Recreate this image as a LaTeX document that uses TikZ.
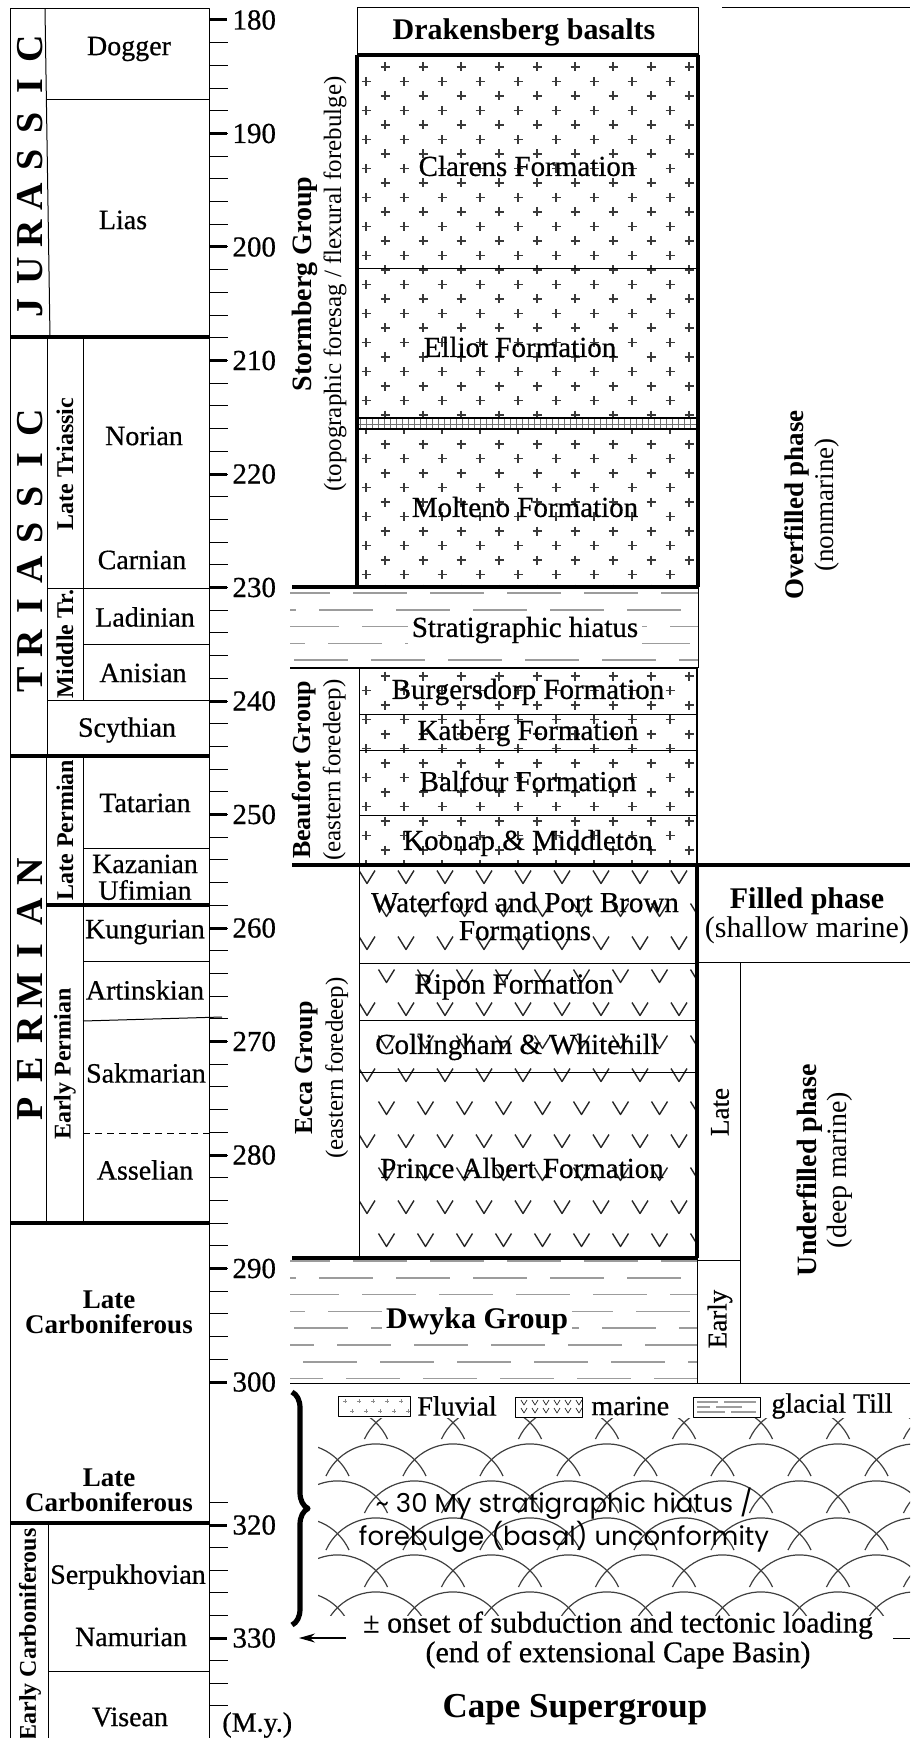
\documentclass[tikz,border=0pt]{standalone}
\usepackage{fontspec}
\setmainfont{Liberation Serif}
\newfontfamily\heavyserif{Liberation Serif}[FakeBold=0.6]
\newfontfamily\gothicfont{Poppins}
\usepackage{tikz}
\usetikzlibrary{positioning,arrows.meta,decorations.pathreplacing,patterns}
\definecolor{patGray}{HTML}{3A3A3A}
\definecolor{tillGray}{HTML}{9C9C9C}
\tikzset{
  thinrule/.style={line width=0.5pt},
  midrule/.style={line width=0.9pt},
  thickrule/.style={line width=1.6pt},
  majortick/.style={line width=1.5pt},
  minortick/.style={line width=0.5pt},
  ticklabel/.style={anchor=west, inner sep=0pt, xshift=2pt, font=\heavyserif\fontsize{14.5}{15}\selectfont},
  stage/.style={inner sep=1pt, align=center, font=\heavyserif\fontsize{14}{12.5}\selectfont},
  stagebold/.style={stage, font=\fontsize{13.5}{12.5}\selectfont\bfseries},
  sublabel/.style={rotate=90, inner sep=0pt, font=\fontsize{12}{13}\selectfont\bfseries},
  periodletter/.style={rotate=90, inner sep=0pt, font=\fontsize{19}{20}\selectfont\bfseries},
  fmlabel/.style={inner sep=1pt, align=center, font=\heavyserif\fontsize{14.5}{14}\selectfont},
  fmbold/.style={fmlabel, font=\fontsize{15}{14}\selectfont\bfseries},
  grouplabel/.style={rotate=90, inner sep=0pt, align=center, font=\fontsize{12.5}{15}\selectfont},
  phaselabel/.style={rotate=90, inner sep=0pt, align=center, font=\fontsize{13.5}{15}\selectfont},
  legendtext/.style={anchor=west, inner sep=0pt, font=\heavyserif\fontsize{14}{14}\selectfont},
  plusmark/.style={line width=0.6pt, draw=patGray},
  vmark/.style={line width=0.7pt, draw=black!85},
  tilldash/.style={line width=0.8pt, draw=tillGray, dash pattern=on 27pt off 11.5pt},
  scalearc/.style={line width=0.6pt, draw=black!75},
  bigbrace/.style={decorate, decoration={brace, amplitude=8pt}, line width=2.6pt},
  onsetarrow/.style={-{Stealth[length=8pt, width=4.5pt]}, line width=0.6pt}
}
\newcommand{\plusfill}[4]{%
  \begin{scope}
    \clip (#1,#2) rectangle (#3,#4);
    \pgfmathtruncatemacro{\jlo}{floor((#2-67)/14.5)}
    \pgfmathtruncatemacro{\jhi}{ceil((#4-67)/14.5)}
    \foreach \j in {\jlo,...,\jhi}{
      \foreach \i in {-1,...,9}{
        \pgfmathsetmacro{\px}{366+38*\i+19*(1-mod(abs(\j),2))}
        \pgfmathsetmacro{\py}{67+14.5*\j}
        \draw[plusmark] (\px-4.5,\py) -- (\px+4.5,\py) (\px,\py-4.5) -- (\px,\py+4.5);
      }
    }
  \end{scope}}
\newcommand{\marinefill}[4]{%
  \begin{scope}
    \clip (#1,#2) rectangle (#3,#4);
    \pgfmathtruncatemacro{\jlo}{floor((#2-877)/33)}
    \pgfmathtruncatemacro{\jhi}{ceil((#4-877)/33)}
    \foreach \j in {\jlo,...,\jhi}{
      \foreach \i in {-1,...,9}{
        \pgfmathsetmacro{\px}{367+39*\i+19.5*mod(abs(\j),2)}
        \pgfmathsetmacro{\py}{877+33*\j}
        \draw[vmark] (\px-8,\py-6.5) -- (\px,\py+6.5) -- (\px+8,\py-6.5);
      }
    }
  \end{scope}}
\newcommand{\tillfill}[5]{%
  \begin{scope}
    \clip (#1,#2) rectangle (#3,#4);
    \pgfmathtruncatemacro{\nrow}{(#4-#2-#5)/16.8}
    \foreach \k in {0,...,\nrow}{
      \pgfmathsetmacro{\yy}{#2+#5+16.8*\k}
      \pgfmathsetlengthmacro{\ph}{mod(\k*17+7,38.5)*1pt}
      \draw[tilldash, dash phase=\ph] (#1,\yy) -- (#3,\yy);
    }
  \end{scope}}
\begin{document}
\begin{tikzpicture}[x=0.5pt, y=-0.5pt, line join=round]
  \useasboundingbox (0,0) rectangle (910,1738);

  \draw[thinrule] (10,1738) -- (10,9) -- (209,9) -- (209,1738);
  \draw[thinrule] (45,9) -- (50,337);
  \draw[thinrule] (47,337) -- (47,756);
  \draw[thinrule] (83,337) -- (83,700);
  \draw[thinrule] (46,756) -- (46,1223);
  \draw[thinrule] (83,756) -- (83,1223);
  \draw[thinrule] (48,1523) -- (48,1738);
  \draw[thinrule] (46,100) -- (209,100);
  \draw[thinrule] (47,588) -- (209,588);
  \draw[thinrule] (83,644) -- (209,644);
  \draw[thinrule] (47,700) -- (209,700);
  \draw[thinrule] (83,848) -- (209,848);
  \draw[thinrule] (83,961) -- (209,961);
  \draw[thinrule] (83,1021) -- (222,1017);
  \draw[thinrule, dash pattern=on 3.5pt off 2.5pt] (83,1133) -- (209,1133);
  \draw[thinrule] (48,1671) -- (209,1671);
  \draw[thickrule] (10,337) -- (209,337);
  \draw[thickrule] (10,756) -- (209,756);
  \draw[thickrule] (46,905) -- (209,905);
  \draw[thickrule] (10,1223) -- (209,1223);
  \draw[thickrule] (10,1523) -- (209,1523);

  \foreach \a in {182,184,...,298}{\draw[minortick] (209,{20+(\a-180)*11.35}) -- ++(19,0);}
  \foreach \a in {318,322,324,326,328,332,334,336}{\draw[minortick] (209,{1525+(\a-320)*11.3}) -- ++(19,0);}
  \foreach \a in {180,190,...,300}{\draw[majortick] (209,{20+(\a-180)*11.35}) -- ++(18,0) node[ticklabel] (tick\a) {\a};}
  \foreach \a in {320,330}{\draw[majortick] (209,{1525+(\a-320)*11.3}) -- ++(18,0) node[ticklabel] (tick\a) {\a};}
  \node[ticklabel, xshift=-2pt, font=\heavyserif\fontsize{14}{14}\selectfont] (myunit) at (222,1725) {(M.y.)};

  \foreach \l [count=\i] in {J,U,R,A,S,S,I,C}{\node[periodletter] (jur\i) at (30,{308-37*(\i-1)}) {\l};}
  \foreach \l [count=\i] in {T,R,I,A,S,S,I,C}{\node[periodletter] (tri\i) at (30,{680-36.7*(\i-1)}) {\l};}
  \foreach \l [count=\i] in {P,E,R,M,I,A,N}{\node[periodletter] (perm\i) at (30,{1109-39.5*(\i-1)}) {\l};}
  \node[sublabel] (lateTri) at (65,464) {Late Triassic};
  \node[sublabel] (midTri) at (65,644) {Middle Tr.};
  \node[sublabel] (latePerm) at (65,830) {Late Permian};
  \node[sublabel] (earlyPerm) at (65,1064) {Early Permian};
  \node[sublabel, anchor=east] (earlyCarb) at (30,1528) {Early Carboniferous};

  \node[stage] (dogger) at (129,49) {Dogger};
  \node[stage] (lias) at (123,220) {Lias};
  \node[stage] (norian) at (144,436) {Norian};
  \node[stage] (carnian) at (142,560) {Carnian};
  \node[stage] (ladinian) at (145,617) {Ladinian};
  \node[stage] (anisian) at (143,673) {Anisian};
  \node[stage] (scythian) at (127,730) {Scythian};
  \node[stage] (tatarian) at (145,803) {Tatarian};
  \node[stage] (kazanian) at (145,864) {Kazanian};
  \node[stage] (ufimian) at (145,890) {Ufimian};
  \node[stage] (kungurian) at (145,932) {Kungurian};
  \node[stage] (artinskian) at (145,990) {Artinskian};
  \node[stage] (sakmarian) at (146,1073) {Sakmarian};
  \node[stage] (asselian) at (145,1170) {Asselian};
  \node[stagebold] (lateCarbA) at (109,1312) {Late\\Carboniferous};
  \node[stagebold] (lateCarbB) at (109,1490) {Late\\Carboniferous};
  \node[stage] (serpukhovian) at (128,1577) {Serpukhovian};
  \node[stage] (namurian) at (131,1637) {Namurian};
  \node[stage] (visean) at (130,1717) {Visean};

  \plusfill{357}{55}{698}{587}
  \plusfill{359}{668}{697}{865}
  \tillfill{290}{587}{698}{668}{6}
  \tillfill{290}{1258}{697}{1383}{3}
  \marinefill{359}{865}{697}{1258}
  \fill[white] (357,418) rectangle (698,429);
  \fill[pattern=grid, pattern color=black!55] (357,418) rectangle (698,429);

  \draw[thinrule] (357,55) -- (357,8) -- (698,8) -- (698,55);
  \draw[thickrule] (357,55) -- (698,55);
  \draw[thickrule] (357,55) -- (357,587);
  \draw[thickrule] (698,55) -- (698,587);
  \draw[thinrule] (357,269) -- (698,269);
  \draw[midrule] (357,418) -- (698,418);
  \draw[midrule] (357,429) -- (698,429);
  \draw[thickrule] (292,587) -- (698,587);
  \draw[thinrule] (698,587) -- (698,668);
  \draw[midrule] (290,668) -- (698,668);
  \draw[thinrule] (359,668) -- (359,865);
  \draw[midrule] (697,668) -- (697,865);
  \draw[thinrule] (359,714) -- (697,714);
  \draw[thinrule] (359,750) -- (697,750);
  \draw[thinrule] (359,815) -- (697,815);
  \draw[thickrule] (292,865) -- (910,865);
  \draw[thinrule] (359,865) -- (359,1258);
  \draw[thickrule] (697,865) -- (697,1258);
  \draw[thinrule] (359,963) -- (697,963);
  \draw[thinrule] (359,1020) -- (697,1020);
  \draw[thinrule] (359,1072) -- (697,1072);
  \draw[thickrule] (292,1258) -- (697,1258);
  \draw[thinrule] (697,1260) -- (740,1260);
  \draw[thinrule] (697,1258) -- (697,1383);
  \draw[thinrule] (290,1383) -- (910,1383);
  \draw[thinrule] (697,962) -- (910,962);
  \draw[thinrule] (740,962) -- (740,1383);
  \draw[thinrule] (722,8) -- (910,8);

  \node[fmbold] (drakensberg) at (524,32) {Drakensberg basalts};
  \node[fmlabel] (clarens) at (527,166) {Clarens Formation};
  \node[fmlabel] (elliot) at (520,347) {Elliot Formation};
  \node[fmlabel] (molteno) at (525,507) {Molteno Formation};
  \node[fmlabel, fill=white, inner sep=2pt] (hiatus) at (525,630) {Stratigraphic hiatus};
  \node[fmlabel] (burgersdorp) at (528,692) {Burgersdorp Formation};
  \node[fmlabel] (katberg) at (528,733) {Katberg Formation};
  \node[fmlabel] (balfour) at (528,781) {Balfour Formation};
  \node[fmlabel] (koonap) at (528,843) {Koonap \& Middleton};
  \node[fmlabel] (waterford) at (525,916) {Waterford and Port Brown\\Formations};
  \node[fmlabel] (ripon) at (514,987) {Ripon Formation};
  \node[fmlabel] (collingham) at (517,1047) {Collingham \& Whitehill};
  \node[fmlabel] (princeAlbert) at (522,1168) {Prince Albert Formation};
  \node[fmbold, fill=white, inner sep=2pt] (dwyka) at (477,1321) {Dwyka Group};

  \node[grouplabel, anchor=west] (stormberg) at (319,492) {{\fontsize{14}{15}\selectfont\bfseries Stormberg Group}\\(topographic foresag / flexural forebulge)};
  \node[grouplabel] (beaufort) at (319,770) {{\fontsize{13}{15}\selectfont\bfseries Beaufort Group}\\(eastern foredeep)};
  \node[grouplabel] (ecca) at (322,1068) {{\fontsize{13}{15}\selectfont\bfseries Ecca Group}\\(eastern foredeep)};

  \node[phaselabel] (overfilled) at (812,505) {{\bfseries Overfilled phase}\\(nonmarine)};
  \node[fmlabel, font=\fontsize{15}{13.5}\selectfont] (filled) at (807,916) {\textbf{Filled phase}\\(shallow marine)};
  \node[phaselabel, font=\fontsize{14}{15}\selectfont] (underfilled) at (825,1170) {{\bfseries Underfilled phase}\\(deep marine)};
  \node[sublabel, font=\heavyserif\fontsize{13.5}{14}\selectfont] (lateUnder) at (720,1112) {Late};
  \node[sublabel, font=\heavyserif\fontsize{13.5}{14}\selectfont] (earlyUnder) at (720,1319) {Early};

  \begin{scope}
    \clip (318,1418) rectangle (910,1615);
    \foreach \r in {-1,...,6}{
      \foreach \c in {-1,...,8}{
        \pgfmathsetmacro{\ax}{337.5+77*\c+38.5*mod(abs(\r),2)-50}
        \pgfmathsetmacro{\ay}{1407+37*\r+32}
        \draw[scalearc] (\ax,\ay) arc[start angle=-155.4, end angle=-24.6, radius=55];
      }
    }
  \end{scope}

  \draw[thinrule] (338,1396) rectangle (410,1416);
  \foreach \i in {0,...,4}{\draw[plusmark, line width=0.4pt, draw=black!45] ({345+14*\i},1401) ++(-2,0) -- ++(4,0) ++(-2,-2) -- ++(0,4);}
  \foreach \i in {0,...,4}{\draw[plusmark, line width=0.4pt, draw=black!45] ({352+14*\i},1411) ++(-2,0) -- ++(4,0) ++(-2,-2) -- ++(0,4);}
  \node[legendtext] (fluvial) at (417,1406) {Fluvial};
  \draw[thinrule] (515,1397) rectangle (582,1417);
  \foreach \i in {0,...,5}{\draw[vmark, line width=0.35pt] ({521+11*\i},1400) -- ++(3,5) -- ++(3,-5);}
  \foreach \i in {0,...,5}{\draw[vmark, line width=0.35pt] ({521+11*\i},1408) -- ++(3,5) -- ++(3,-5);}
  \node[legendtext] (marine) at (591,1406) {marine};
  \draw[thinrule] (693,1397) rectangle (760,1417);
  \draw[line width=0.6pt, draw=tillGray] (697,1402) -- (718,1402) (724,1402) -- (756,1402) (697,1407) -- (710,1407) (716,1407) -- (742,1407) (697,1412) -- (725,1412) (731,1412) -- (756,1412);
  \node[legendtext] (till) at (771,1406) {glacial Till};

  \node[inner sep=0pt, align=center, font=\gothicfont\fontsize{13}{13}\selectfont] (unconformity) at (564,1520) {\textasciitilde{} 30 My stratigraphic hiatus /\\forebulge (basal) unconformity};

  \coordinate (braceTop) at (292,1392);
  \coordinate (braceBot) at (292,1625);
  \draw[bigbrace] (braceTop) -- (braceBot);

  \node[inner sep=0pt, align=center, font=\heavyserif\fontsize{15}{13}\selectfont] (onset) at (618,1640) {± onset of subduction and tectonic loading\\(end of extensional Cape Basin)};
  \coordinate (onsetTail) at (346,1638);
  \coordinate (onsetTip) at (299,1638);
  \draw[onsetarrow] (onsetTail) -- (onsetTip);
  \coordinate (stubA) at (893,1638);
  \coordinate (stubB) at (910,1638);
  \draw[thinrule] (stubA) -- (stubB);

  \node[inner sep=0pt, font=\fontsize{17.5}{18}\selectfont\bfseries] (capeSG) at (575,1710) {Cape Supergroup};
\end{tikzpicture}
\end{document}
